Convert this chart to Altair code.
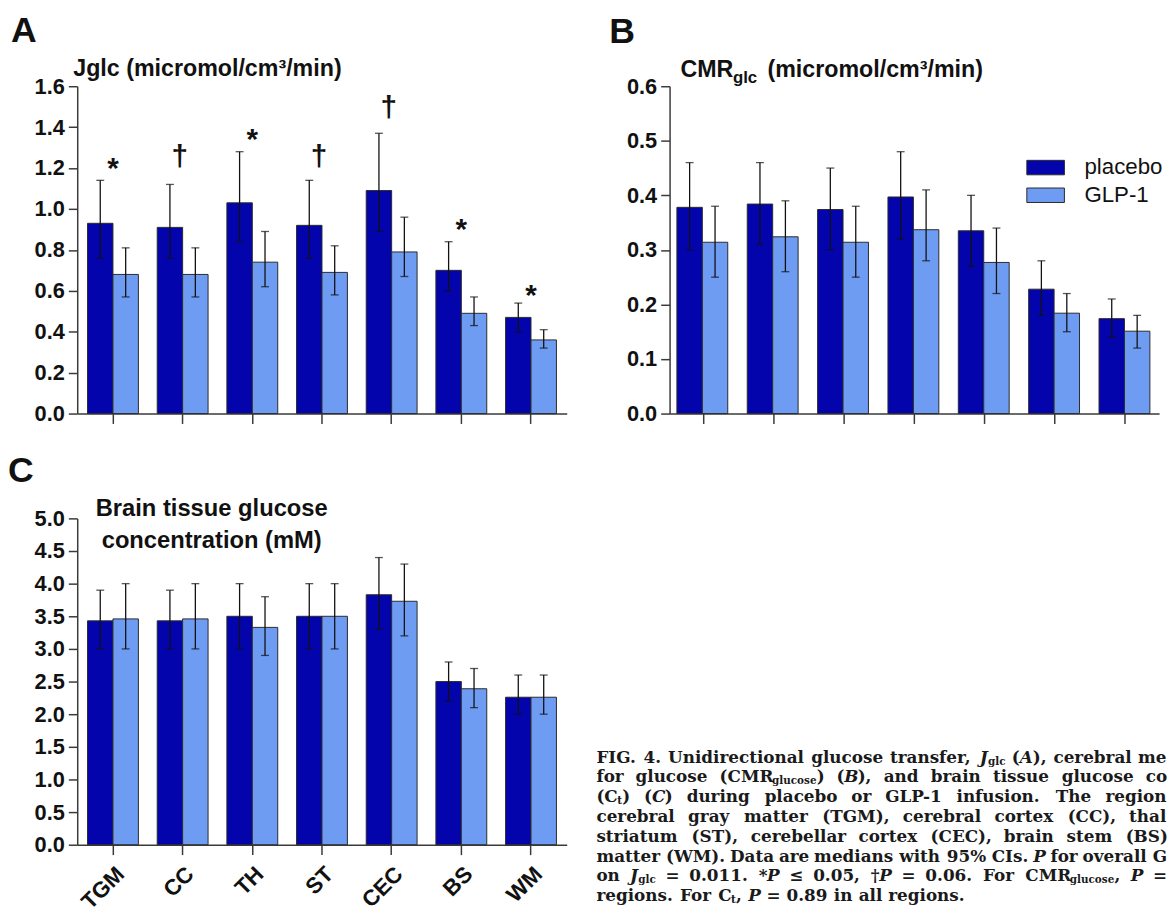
import altair as alt
import pandas as pd

# ---------------- data ----------------
regions = ["TGM", "CC", "TH", "ST", "CEC", "BS", "WM"]
groups = ["placebo", "GLP-1"]

# Panel A: Jglc
jglc_placebo = [0.93, 0.91, 1.03, 0.92, 1.09, 0.70, 0.47]
jglc_placebo_lo = [0.76, 0.76, 0.84, 0.76, 0.89, 0.60, 0.40]
jglc_placebo_hi = [1.14, 1.12, 1.28, 1.14, 1.37, 0.84, 0.54]
jglc_glp1 = [0.68, 0.68, 0.74, 0.69, 0.79, 0.49, 0.36]
jglc_glp1_lo = [0.57, 0.57, 0.62, 0.58, 0.67, 0.43, 0.32]
jglc_glp1_hi = [0.81, 0.81, 0.89, 0.82, 0.96, 0.57, 0.41]
jglc_sig = ["*", "\u2020", "*", "\u2020", "\u2020", "*", "*"]
jglc_sig_y = [1.24, 1.25, 1.38, 1.25, 1.49, 0.94, 0.62]

# Panel B: CMRglc
cmr_placebo = [0.378, 0.384, 0.374, 0.397, 0.335, 0.228, 0.174]
cmr_placebo_lo = [0.30, 0.31, 0.30, 0.32, 0.27, 0.18, 0.14]
cmr_placebo_hi = [0.46, 0.46, 0.45, 0.48, 0.40, 0.28, 0.21]
cmr_glp1 = [0.314, 0.324, 0.314, 0.337, 0.277, 0.184, 0.151]
cmr_glp1_lo = [0.25, 0.26, 0.25, 0.28, 0.22, 0.15, 0.12]
cmr_glp1_hi = [0.38, 0.39, 0.38, 0.41, 0.34, 0.22, 0.18]

# Panel C: brain tissue glucose
ct_placebo = [3.43, 3.43, 3.50, 3.50, 3.83, 2.50, 2.26]
ct_placebo_lo = [3.0, 3.0, 3.0, 3.0, 3.3, 2.2, 2.0]
ct_placebo_hi = [3.9, 3.9, 4.0, 4.0, 4.4, 2.8, 2.6]
ct_glp1 = [3.46, 3.46, 3.33, 3.50, 3.73, 2.39, 2.26]
ct_glp1_lo = [3.0, 3.0, 2.9, 3.0, 3.2, 2.1, 2.0]
ct_glp1_hi = [4.0, 4.0, 3.8, 4.0, 4.3, 2.7, 2.6]

caption_lines = [
    "FIG. 4. Unidirectional glucose transfer, ~{J}_{glc} (~{A}), cerebral me",
    "for glucose (CMR_{glucose}) (~{B}), and brain tissue glucose co",
    "(C_{t}) (~{C}) during placebo or GLP-1 infusion. The region",
    "cerebral gray matter (TGM), cerebral cortex (CC), thal",
    "striatum (ST), cerebellar cortex (CEC), brain stem (BS)",
    "matter (WM). Data are medians with 95% CIs. ~{P} for overall G",
    "on ~{J}_{glc} = 0.011. *~{P} \u2264 0.05, \u2020~{P} = 0.06. For CMR_{glucose}, ~{P} =",
    "regions. For C_{t}, ~{P} = 0.89 in all regions.",
]

# ---------------- style ----------------
DARK = "#0404AC"
LIGHT = "#6E9CF2"
AX = "#3a3a3a"
SANS = "Liberation Sans"
SERIF = "DejaVu Serif"
W = 495
NOFRAME = alt.ViewBackground(stroke=None)


def long_df(p, plo, phi, g, glo, ghi):
    rows = []
    for i, r in enumerate(regions):
        rows.append(dict(region=r, group="placebo", value=p[i], lo=plo[i], hi=phi[i]))
        rows.append(dict(region=r, group="GLP-1", value=g[i], lo=glo[i], hi=ghi[i]))
    return pd.DataFrame(rows)


def text_layer(txt, x, y, size, align="left", baseline="alphabetic", weight="bold",
               font=SANS, line_height=None, style="normal"):
    kw = dict(font=font, fontSize=size, fontWeight=weight, align=align,
              baseline=baseline, color="#111111", fontStyle=style)
    if line_height is not None:
        kw["lineHeight"] = line_height
        kw["lineBreak"] = "\n"
    return alt.Chart(pd.DataFrame({"t": [txt]})).mark_text(**kw).encode(
        text="t:N", x=alt.value(x), y=alt.value(y))


def panel(df, ymax, ystep, pin, pout, show_labels, legend=None):
    n = int(round(ymax / ystep))
    ticks = [round(i * ystep, 3) for i in range(n + 1)]
    xaxis_kw = dict(domainColor=AX, domainWidth=1.5, tickColor=AX, tickWidth=1.5,
                    tickSize=10, title=None, grid=False, labels=show_labels)
    if show_labels:
        xaxis_kw.update(labelAngle=-45, labelAlign="right", labelBaseline="top",
                        labelFont=SANS, labelFontWeight="bold",
                        labelFontSize=22.5, labelColor="#111111", labelPadding=8)
    xenc = alt.X("region:N", sort=regions, title=None,
                 scale=alt.Scale(paddingInner=pin, paddingOuter=pout),
                 axis=alt.Axis(**xaxis_kw))
    yscale = alt.Scale(domain=[0, ymax], nice=False, zero=True)
    yaxis = alt.Axis(values=ticks, format=".1f", domainColor=AX, domainWidth=1.5,
                     tickColor=AX, tickWidth=1.5, tickSize=9, title=None, grid=False,
                     labelFont=SANS, labelFontWeight="bold", labelFontSize=22,
                     labelColor="#111111", labelPadding=4)
    xoff = alt.XOffset("group:N", sort=groups,
                       scale=alt.Scale(paddingInner=0, paddingOuter=0))
    base = alt.Chart(df)
    bars = base.mark_bar(stroke="#2a2a2a", strokeWidth=1).encode(
        x=xenc, xOffset=xoff,
        y=alt.Y("value:Q", scale=yscale, axis=yaxis),
        color=alt.Color("group:N", sort=groups,
                        scale=alt.Scale(domain=groups, range=[DARK, LIGHT]),
                        legend=legend),
    )
    err = base.mark_rule(color="#111111", strokeWidth=1.3).encode(
        x=xenc, xOffset=xoff, y=alt.Y("lo:Q", scale=yscale, axis=yaxis), y2="hi:Q")
    cap_lo = base.mark_tick(color="#111111", thickness=1.3, size=8, orient="horizontal").encode(
        x=xenc, xOffset=xoff, y=alt.Y("lo:Q", scale=yscale, axis=yaxis))
    cap_hi = base.mark_tick(color="#111111", thickness=1.3, size=8, orient="horizontal").encode(
        x=xenc, xOffset=xoff, y=alt.Y("hi:Q", scale=yscale, axis=yaxis))
    return [bars, err, cap_lo, cap_hi], xenc, yscale, yaxis


# ---------- Panel A ----------
dfA = long_df(jglc_placebo, jglc_placebo_lo, jglc_placebo_hi,
              jglc_glp1, jglc_glp1_lo, jglc_glp1_hi)
layersA, xA, ysA, yaA = panel(dfA, 1.6, 0.2, 0.27, 0.148, False)
sig_df = pd.DataFrame({"region": regions, "sig": jglc_sig, "ypos": jglc_sig_y})
stars = alt.Chart(sig_df).transform_filter("datum.sig == '*'").mark_text(
    font=SANS, fontWeight="bold", fontSize=30, baseline="middle", dy=9, color="#111111"
).encode(x=xA, y=alt.Y("ypos:Q", scale=ysA, axis=yaA), text="sig:N")
daggers = alt.Chart(sig_df).transform_filter("datum.sig != '*'").mark_text(
    font=SANS, fontWeight="bold", fontSize=30, baseline="middle", dy=-1, dx=-3, color="#111111"
).encode(x=xA, y=alt.Y("ypos:Q", scale=ysA, axis=yaA), text="sig:N")
chartA = alt.layer(
    *layersA, stars, daggers,
    text_layer("A", -67, -73, 36, baseline="top"),
    text_layer("Jglc (micromol/cm\u00b3/min)", -4, -10, 23.5),
).properties(width=W, height=331, view=NOFRAME)

# ---------- Panel B ----------
dfB = long_df(cmr_placebo, cmr_placebo_lo, cmr_placebo_hi,
              cmr_glp1, cmr_glp1_lo, cmr_glp1_hi)
legB = alt.Legend(orient="none", legendX=369, legendY=71, title=None,
                  symbolType="M-2,-0.77H2V0.77H-2Z", symbolSize=361,
                  symbolStrokeColor="#2a2a2a", symbolStrokeWidth=1, symbolOpacity=1,
                  labelFont=SANS, labelFontSize=22.5, labelColor="#111111",
                  labelOffset=28, rowPadding=5, padding=0, labelBaseline="middle")
layersB, xB, ysB, yaB = panel(dfB, 0.6, 0.1, 0.25, 0.104, False, legend=legB)
chartB = alt.layer(
    *layersB,
    text_layer("B", -61, -72, 36, baseline="top"),
    text_layer("CMR", 11, -9, 23.5),
    text_layer("glc", 64, -3, 17),
    text_layer("(micromol/cm\u00b3/min)", 99, -9, 23.5),
).properties(width=W, height=331, view=NOFRAME)

# ---------- Panel C ----------
dfC = long_df(ct_placebo, ct_placebo_lo, ct_placebo_hi,
              ct_glp1, ct_glp1_lo, ct_glp1_hi)
layersC, xC, ysC, yaC = panel(dfC, 5.0, 0.5, 0.27, 0.148, True)
chartC = alt.layer(
    *layersC,
    text_layer("C", -70, -65, 36, baseline="top"),
    text_layer("Brain tissue glucose\nconcentration (mM)", 136, -2, 24,
               align="center", line_height=32),
).properties(width=W, height=330, view=NOFRAME)

# ---------- Caption (typeset word by word) ----------
WID = {' ': .348, '.': .38, ',': .38, '(': .473, ')': .473, '*': .5, '=': .838,
       '\u2264': .838, '\u2020': .5, '%': 1.0, '-': .415,
       'A': .776, 'B': .792, 'C': .765, 'D': .854, 'E': .76, 'F': .733, 'G': .847,
       'H': .942, 'I': .468, 'J': .487, 'L': .72, 'M': 1.072, 'N': .9, 'O': .85,
       'P': .738, 'R': .812, 'S': .721, 'T': .74, 'U': .862, 'W': 1.133,
       'a': .648, 'b': .699, 'c': .594, 'd': .699, 'e': .636, 'f': .435, 'g': .699,
       'h': .752, 'i': .38, 'k': .711, 'l': .38, 'm': 1.089, 'n': .752, 'o': .667,
       'p': .699, 'r': .53, 's': .578, 't': .476, 'u': .752, 'v': .653, 'w': .941,
       'x': .653, 'y': .653}
for d in "0123456789":
    WID[d] = .696

FS = 17.0
FS_SUB = 10.5
SUB_DROP = 2.0
CAP_X0 = 603 - 677          # relative to caption cell origin (page x 677)
CAP_Y0 = 764 - 517          # first baseline, relative to cell top (page y 517)
CAP_DY = 20.0
CAP_RIGHT = 1180 - 677


def tw(s, fs):
    return sum(WID.get(ch, .65) for ch in s) * fs


def parse_word(word):
    pieces = []
    i = 0
    buf = ""
    while i < len(word):
        if word[i] in "_~" and i + 1 < len(word) and word[i + 1] == "{":
            if buf:
                pieces.append((buf, "n"))
                buf = ""
            j = word.index("}", i)
            pieces.append((word[i + 2:j], "s" if word[i] == "_" else "i"))
            i = j + 1
        else:
            buf += word[i]
            i += 1
    if buf:
        pieces.append((buf, "n"))
    return pieces


rows = []
for li, line in enumerate(caption_lines):
    words = [parse_word(w) for w in line.split(" ")]
    widths = [sum(tw(t, FS_SUB if k == "s" else FS) for t, k in w) for w in words]
    gap = tw(" ", FS)
    natural = sum(widths) + gap * (len(words) - 1)
    if li < len(caption_lines) - 1 and len(words) > 1:
        gap = max(gap * 0.8, gap + (CAP_RIGHT - CAP_X0 - natural) / (len(words) - 1))
    x = CAP_X0
    y = CAP_Y0 + li * CAP_DY
    for w, wd in zip(words, widths):
        xx = x
        for t, k in w:
            fs = FS_SUB if k == "s" else FS
            rows.append(dict(t=t, px=xx, py=y + (SUB_DROP if k == "s" else 0), fs=fs,
                             sty="italic" if k == "i" else "normal"))
            xx += tw(t, fs)
        x += wd + gap

cap_df = pd.DataFrame(rows)
cap_base = alt.Chart(cap_df)
cap_layers = []
for sty in ["normal", "italic"]:
    cap_layers.append(
        cap_base.transform_filter(f"datum.sty == '{sty}'").mark_text(
            font=SERIF, fontWeight="bold", fontStyle=sty, align="left",
            baseline="alphabetic", color="#1a1a1a"
        ).encode(
            x=alt.X("px:Q", scale=None, axis=None),
            y=alt.Y("py:Q", scale=None, axis=None),
            size=alt.Size("fs:Q", scale=None, legend=None),
            text="t:N",
        )
    )
chartCap = alt.layer(*cap_layers).properties(width=W, height=330, view=NOFRAME)

chart = alt.concat(
    chartA, chartB, chartC, chartCap,
    columns=2, spacing={"row": 106, "column": 104}, bounds="flush",
).resolve_scale(color="independent").properties(
    padding={"left": 0, "top": 0, "right": 0, "bottom": 0}
).configure_view(stroke=None).configure(font=SANS, background="white")

chart.save("out.html", embed_options={"renderer": "svg", "actions": False})
